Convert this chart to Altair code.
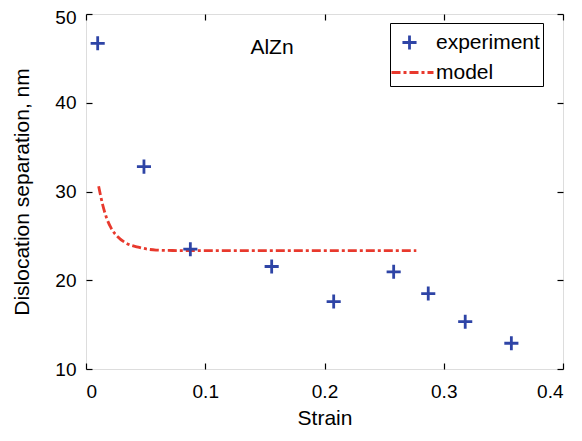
import altair as alt
import pandas as pd

# experiment data
exp_strain = [0.0098, 0.0486, 0.0875, 0.1557, 0.2077, 0.258, 0.287, 0.318, 0.3567]
exp_sep = [46.7, 32.8, 23.5, 21.55, 17.6, 20.95, 18.5, 15.33, 12.9]

# model curve
model_strain = [0.0106, 0.014, 0.0173, 0.021, 0.0266, 0.0335, 0.0447, 0.0587, 0.0727, 0.10, 0.15, 0.20, 0.25, 0.277]
model_sep = [30.6, 28.5, 27.0, 25.9, 24.9, 24.2, 23.7, 23.4, 23.35, 23.33, 23.33, 23.33, 23.33, 23.33]

series_names = ["experiment", "model"]
series_colors = ["#2E44A6", "#E8392D"]

annot_x = [0.156]
annot_y = [46.2]
annot_text = ["AlZn"]

exp_df = pd.DataFrame({"strain": exp_strain, "sep": exp_sep, "series": "experiment"})
model_df = pd.DataFrame({"strain": model_strain, "sep": model_sep, "series": "model"})
annot_df = pd.DataFrame({"strain": annot_x, "sep": annot_y, "label": annot_text})

FONT = "Liberation Sans"
xscale = alt.Scale(domain=[0, 0.4], nice=False, zero=False)
yscale = alt.Scale(domain=[10, 50], nice=False, zero=False)
color_scale = alt.Scale(domain=series_names, range=series_colors)
shape_scale = alt.Scale(domain=series_names, range=["M-0.47,0H0.47M0,-0.47V0.47", "M-1.2,0H1.6"])
dash_scale = alt.Scale(domain=series_names, range=[[1, 0], [9, 3, 3, 3]])

legend = alt.Legend(
    title=None, orient="none", legendX=304, legendY=9,
    strokeColor="black", fillColor="white", padding=3,
    labelFont=FONT, labelFontSize=21, labelColor="black",
    symbolSize=900, symbolStrokeWidth=2.8, symbolFillColor="transparent",
    rowPadding=-11, labelOffset=10,
)

xticks = [0, 0.1, 0.2, 0.3, 0.4]
yticks = [10, 20, 30, 40, 50]

common = dict(labelFont=FONT, titleFont=FONT, labelFontSize=19,
              labelColor="black", titleColor="black", tickColor="black",
              titleFontWeight="normal", grid=False, domain=False, tickWidth=1.2)

bottom_axis = alt.Axis(orient="bottom", values=xticks, format=".1~f", offset=-6, tickSize=6,
                       labelPadding=13, title="Strain", titleFontSize=21, titlePadding=6, **common)
left_axis = alt.Axis(orient="left", values=yticks, offset=-6, tickSize=6,
                     labelPadding=10, title="Dislocation separation, nm", titleFontSize=21,
                     titlePadding=22,
                     labelOffset={"condition": {"test": "datum.value == 50", "value": 3}, "value": 0},
                     **common)
top_axis = alt.Axis(orient="top", values=xticks, offset=-6, tickSize=6, labels=False,
                    title=None, **common)
right_axis = alt.Axis(orient="right", values=yticks, offset=-6, tickSize=6, labels=False,
                      title=None, **common)

points = alt.Chart(exp_df).mark_point(filled=False, strokeWidth=2.8, size=900, opacity=1).encode(
    x=alt.X("strain:Q", scale=xscale, axis=bottom_axis),
    y=alt.Y("sep:Q", scale=yscale, axis=left_axis),
    color=alt.Color("series:N", scale=color_scale, legend=legend),
    shape=alt.Shape("series:N", scale=shape_scale, legend=legend),
)

line = alt.Chart(model_df).mark_line(strokeWidth=2.8, interpolate="monotone").encode(
    x=alt.X("strain:Q", scale=xscale, axis=top_axis),
    y=alt.Y("sep:Q", scale=yscale, axis=right_axis),
    color=alt.Color("series:N", scale=color_scale, legend=legend),
    strokeDash=alt.StrokeDash("series:N", scale=dash_scale, legend=legend),
)

text = alt.Chart(annot_df).mark_text(font=FONT, fontSize=21, color="black").encode(
    x=alt.X("strain:Q", scale=xscale, axis=None),
    y=alt.Y("sep:Q", scale=yscale, axis=None),
    text="label:N",
)

chart = alt.layer(line, points, text).resolve_axis(x="independent", y="independent").properties(
    width=477, height=355,
    autosize=alt.AutoSizeParams(type="none"),
    padding={"left": 78, "top": 6, "right": 11, "bottom": 64},
).configure_view(stroke="black", strokeWidth=1.2).configure(background="white")

chart.save("out.html", embed_options={"renderer": "svg", "actions": False})
